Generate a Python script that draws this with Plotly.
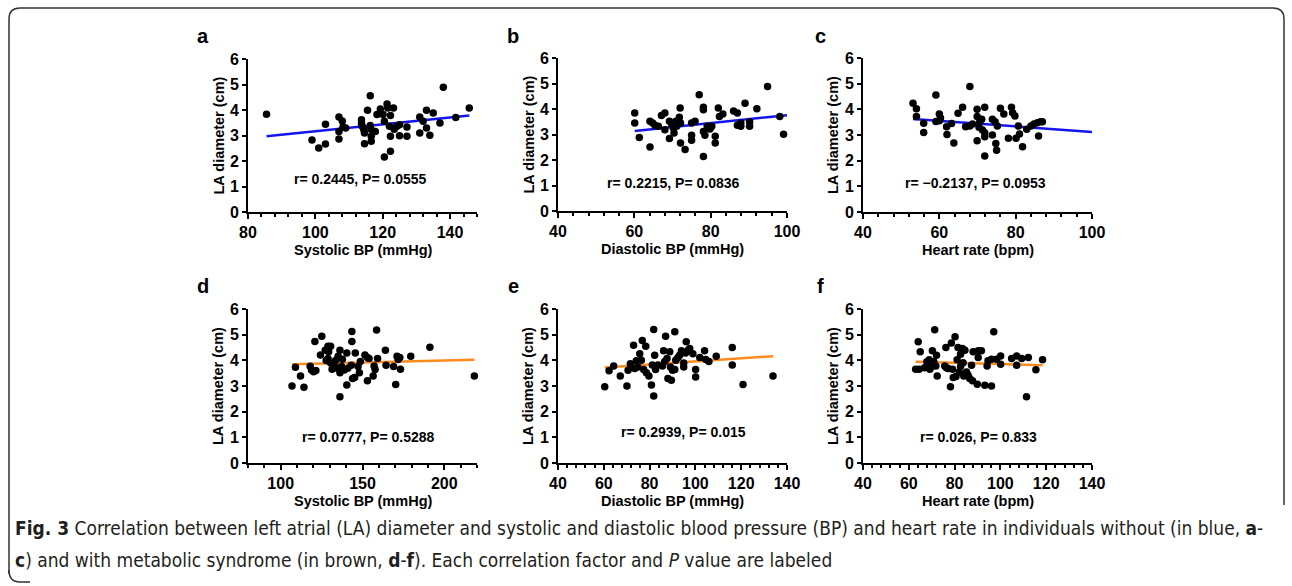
import plotly.graph_objects as go

W, H = 1292, 586

# ---------------- data ----------------
# Panel a: Systolic BP vs LA diameter (without MetS)
a_x = [85.5, 99.0, 101.0, 103.0, 103.0, 107.0, 107.0, 107.0, 108.0, 108.2, 109.0, 113.7, 113.7, 113.9,
       114.4, 114.6, 114.6, 115.5, 116.3, 116.3, 116.5, 116.6, 116.6, 117.8, 118.3, 119.3, 120.1, 120.5,
       120.5, 121.3, 121.5, 122.0, 122.3, 122.3, 122.3, 123.2, 123.4, 124.2, 125.0, 125.0, 127.2, 127.2,
       131.0, 131.0, 132.0, 133.0, 133.0, 134.0, 135.0, 137.0, 138.0, 141.7, 145.7]
a_y = [3.83, 2.82, 2.51, 3.44, 2.67, 3.73, 3.16, 2.86, 3.57, 3.33, 3.29, 3.62, 3.49, 3.36,
       3.23, 3.10, 2.68, 3.99, 4.56, 3.39, 3.25, 2.97, 2.77, 3.16, 3.82, 4.04, 3.82, 3.56,
       2.16, 4.24, 4.08, 3.36, 3.78, 2.97, 2.38, 4.08, 3.25, 3.36, 3.42, 2.99, 3.33, 2.97,
       3.73, 3.10, 3.56, 3.99, 3.29, 3.01, 3.88, 3.49, 4.89, 3.71, 4.08]
a_fit_x = [85.5, 145.7]
a_fit_y = [2.97, 3.78]

# Panel b: Diastolic BP
b_x = [60.1, 60.1, 61.3, 64.1, 64.1, 64.8, 65.4, 66.3, 67.1, 68.0, 68.0, 69.2, 69.2, 69.8, 70.2, 70.4,
       70.9, 71.1, 71.8, 72.0, 72.1, 72.1, 73.3, 75.0, 75.0, 75.0, 75.9, 77.0, 78.1, 78.1, 78.1, 78.1,
       78.5, 79.1, 79.8, 80.3, 81.2, 81.2, 82.0, 82.3, 83.2, 86.0, 87.0, 87.0, 87.9, 87.9, 89.0, 90.2,
       90.2, 92.1, 94.9, 98.1, 99.1]
b_y = [3.84, 3.45, 2.88, 3.52, 2.51, 3.45, 3.36, 3.32, 3.75, 3.84, 3.19, 3.52, 2.84, 3.39, 3.26, 3.06,
       3.52, 3.32, 3.68, 4.04, 3.45, 2.67, 2.41, 3.45, 2.97, 2.77, 3.52, 4.56, 4.07, 3.97, 3.12, 2.14,
       2.97, 3.32, 3.22, 3.32, 2.93, 2.67, 4.04, 3.71, 3.80, 3.92, 3.84, 3.36, 3.45, 3.32, 4.23, 3.32,
       3.49, 4.01, 4.88, 3.71, 3.01]
b_fit_x = [60.1, 100.0]
b_fit_y = [3.14, 3.76]

# Panel c: Heart rate
c_x = [53.1, 54.0, 54.0, 55.9, 55.9, 59.1, 59.1, 60.0, 60.0, 60.3, 61.9, 62.0, 63.2, 63.8, 64.9, 66.1,
       66.9, 68.0, 68.0, 68.7, 69.9, 69.9, 69.9, 70.4, 70.6, 71.1, 71.3, 71.9, 71.9, 71.9, 71.9, 73.9,
       73.9, 74.6, 74.8, 75.0, 75.2, 76.0, 76.9, 78.1, 78.9, 79.2, 79.8, 80.1, 80.7, 81.0, 81.8, 82.9,
       84.0, 84.8, 85.7, 86.0, 86.5, 87.0]
c_y = [4.24, 4.02, 3.72, 3.46, 3.10, 4.56, 3.53, 3.82, 3.56, 3.66, 3.32, 3.02, 3.45, 2.69, 3.85, 4.08,
       3.32, 4.89, 3.35, 3.43, 4.00, 3.72, 2.78, 3.30, 3.52, 3.61, 3.19, 4.08, 3.09, 2.93, 2.18, 3.61,
       3.00, 3.52, 2.67, 2.41, 3.35, 4.04, 3.82, 2.87, 4.08, 3.87, 3.74, 2.87, 3.35, 3.04, 2.54, 3.22,
       3.35, 3.43, 3.48, 2.96, 3.52, 3.52]
c_fit_x = [53.1, 100.0]
c_fit_y = [3.62, 3.12]

# Panel d: Systolic BP (with MetS)
d_x = [106.9, 109.0, 112.1, 114.2, 118.0, 118.8, 120.1, 120.9, 121.5, 124.3, 125.1, 127.2, 127.8, 128.9,
       128.9, 129.3, 130.5, 130.5, 131.4, 132.6, 133.5, 134.7, 135.1, 136.2, 136.2, 136.2, 137.2, 137.7,
       138.9, 140.4, 140.4, 141.0, 143.1, 143.5, 143.5, 143.9, 145.2, 145.6, 147.3, 148.1, 148.7, 151.5,
       153.0, 153.0, 154.0, 156.5, 157.1, 157.7, 158.6, 159.2, 164.0, 164.4, 169.0, 170.3, 171.1, 171.8,
       172.8, 173.2, 179.5, 191.2, 218.4]
d_y = [3.00, 3.73, 3.39, 2.95, 3.77, 3.62, 3.56, 4.73, 3.60, 4.21, 4.94, 4.39, 3.99, 4.55,
       4.07, 4.33, 4.55, 3.90, 3.65, 3.81, 3.99, 3.69, 4.16, 4.39, 3.52, 2.58, 3.76, 4.04,
       3.62, 3.04, 4.29, 3.69, 3.81, 5.12, 4.73, 3.29, 3.33, 4.29, 3.76, 3.52, 3.95, 4.21,
       4.11, 3.20, 4.07, 3.39, 3.78, 3.64, 5.18, 4.07, 4.39, 3.81, 3.76, 3.06, 4.16, 4.03,
       4.11, 3.65, 4.16, 4.51, 3.39]
d_fit_x = [106.9, 218.4]
d_fit_y = [3.85, 4.02]

# Panel e: Diastolic BP (with MetS)
e_x = [60.4, 62.3, 64.3, 67.2, 70.1, 70.6, 71.6, 72.0, 73.0, 73.5, 74.2, 74.9, 75.7, 76.4, 76.8, 77.4,
       78.3, 78.6, 79.7, 80.8, 81.2, 81.8, 81.8, 82.2, 82.6, 83.7, 85.6, 86.1, 86.6, 87.0, 87.6, 88.0,
       88.8, 89.1, 89.5, 90.0, 91.0, 91.0, 91.4, 92.4, 93.1, 93.9, 94.9, 94.9, 95.7, 96.0, 96.8, 97.5,
       98.9, 100.1, 100.1, 101.9, 104.0, 104.5, 105.9, 109.1, 116.1, 116.1, 120.8, 133.9]
e_y = [2.97, 3.59, 3.78, 3.39, 3.00, 3.61, 3.87, 3.74, 4.59, 3.68, 3.98, 3.74, 4.26, 4.00, 4.77, 3.64,
       4.55, 3.52, 3.39, 3.04, 3.82, 2.61, 5.20, 4.20, 3.64, 3.82, 3.78, 4.37, 3.95, 4.94, 4.07, 3.29,
       4.33, 3.74, 3.22, 3.61, 5.11, 3.64, 4.00, 4.11, 4.20, 4.37, 3.74, 3.90, 4.29, 4.72, 4.39, 4.46,
       4.26, 3.35, 3.64, 4.11, 4.37, 4.03, 3.95, 4.16, 4.50, 3.82, 3.06, 3.39]
e_fit_x = [60.4, 134.0]
e_fit_y = [3.72, 4.16]

# Panel f: Heart rate (with MetS)
f_x = [63.0, 64.1, 64.5, 65.0, 66.9, 67.9, 68.9, 69.2, 69.9, 70.3, 70.9, 71.3, 71.8, 72.1, 72.4, 75.7,
       76.2, 76.4, 77.2, 78.2, 78.6, 79.1, 79.4, 80.2, 80.6, 81.1, 81.5, 82.0, 82.6, 82.6, 83.4, 83.7,
       84.0, 84.5, 85.2, 85.9, 86.6, 87.4, 87.8, 88.1, 89.9, 90.3, 90.3, 91.7, 93.2, 94.2, 94.6, 96.1,
       96.1, 97.1, 98.3, 100.1, 100.1, 104.9, 107.1, 107.1, 109.3, 111.4, 112.2, 115.5, 118.4]
f_y = [3.65, 4.72, 3.65, 4.33, 3.71, 3.94, 4.02, 3.65, 3.76, 4.37, 3.94, 5.19, 3.78, 4.20, 3.39, 3.78,
       4.50, 3.71, 3.68, 2.97, 4.68, 3.65, 3.33, 4.92, 3.37, 4.02, 4.50, 3.55, 4.24, 3.76, 4.46, 3.91,
       3.39, 4.39, 3.55, 3.42, 3.29, 3.81, 3.20, 4.33, 3.07, 4.11, 4.37, 4.37, 3.03, 3.78, 3.98, 3.00,
       4.04, 5.11, 4.04, 3.85, 4.17, 4.07, 4.17, 3.81, 4.07, 2.58, 4.11, 3.63, 4.02]
f_fit_x = [63.0, 118.4]
f_fit_y = [3.94, 3.81]

panel_letters = ["a", "b", "c", "d", "e", "f"]
x_titles = ["Systolic BP (mmHg)", "Diastolic BP (mmHg)", "Heart rate (bpm)",
            "Systolic BP (mmHg)", "Diastolic BP (mmHg)", "Heart rate (bpm)"]
y_title = "LA diameter (cm)"
stats_text = ["r= 0.2445, P= 0.0555", "r= 0.2215, P= 0.0836", "r= \u22120.2137, P= 0.0953",
              "r= 0.0777, P= 0.5288", "r= 0.2939, P= 0.015", "r= 0.026, P= 0.833"]
x_ranges = [[80, 148], [40, 100], [40, 100], [80, 220], [40, 140], [40, 140]]
x_tickvals = [[80, 100, 120, 140], [40, 60, 80, 100], [40, 60, 80, 100],
              [100, 150, 200], [40, 60, 80, 100, 120, 140], [40, 60, 80, 100, 120, 140]]
x_minor = [4, 4, 4, 10, 4, 4]
y_tickvals = [0, 1, 2, 3, 4, 5, 6]

xs = [a_x, b_x, c_x, d_x, e_x, f_x]
ys = [a_y, b_y, c_y, d_y, e_y, f_y]
fits_x = [a_fit_x, b_fit_x, c_fit_x, d_fit_x, e_fit_x, f_fit_x]
fits_y = [a_fit_y, b_fit_y, c_fit_y, d_fit_y, e_fit_y, f_fit_y]
line_colors = ["#1414f0", "#1414f0", "#1414f0", "#ff8a1c", "#ff8a1c", "#ff8a1c"]

# ---------------- layout geometry (pixels) ----------------
boxes = [  # left, right, top, bottom
    (248, 477, 59, 212), (558, 787, 58, 211), (863, 1092, 58, 212),
    (248, 477, 309, 463), (558, 787, 309, 463), (863, 1092, 309, 463),
]
letter_pos = [(203, 36), (513, 36), (820, 36), (203, 286), (513, 286), (820, 286)]
stat_pos = [(360, 179), (673, 183), (976, 183), (368, 437), (683, 432), (978, 437)]


def px(x):
    return x / W


def py(y):
    return 1 - y / H


FONT = "Liberation Sans, Arial, Helvetica, sans-serif"
fig = go.Figure()
layout = dict(width=W, height=H, margin=dict(l=0, r=0, t=0, b=0),
              paper_bgcolor="white", plot_bgcolor="white", showlegend=False)
annotations = []


def ann(text, x, y, size, angle=0, xanchor="center", font=FONT, color="black"):
    return dict(text=text, x=px(x), y=py(y), xref="paper", yref="paper", showarrow=False,
                xanchor=xanchor, yanchor="middle", textangle=angle,
                font=dict(family=font, size=size, color=color))


for i in range(6):
    n = "" if i == 0 else str(i + 1)
    xa, ya = "x" + n, "y" + n
    L, R, T, B = boxes[i]
    fig.add_trace(go.Scatter(x=fits_x[i], y=fits_y[i], mode="lines", xaxis=xa, yaxis=ya,
                             line=dict(color=line_colors[i], width=2.5), hoverinfo="skip"))
    fig.add_trace(go.Scatter(x=xs[i], y=ys[i], mode="markers", xaxis=xa, yaxis=ya,
                             marker=dict(color="black", size=7.5), cliponaxis=False))
    layout["xaxis" + n] = dict(
        domain=[px(L), px(R)], anchor=ya, range=x_ranges[i], tickmode="array",
        tickvals=x_tickvals[i], showline=True, linecolor="black", linewidth=2,
        ticks="outside", ticklen=5, tickwidth=2, tickcolor="black", showgrid=False,
        zeroline=False, tickfont=dict(family=FONT, size=16, color="black", weight="bold"),
        minor=dict(dtick=x_minor[i], tick0=x_ranges[i][0], ticks="outside", ticklen=3,
                   tickwidth=2, tickcolor="black", showgrid=False),
        automargin=False, fixedrange=True)
    layout["yaxis" + n] = dict(
        domain=[py(B), py(T)], anchor=xa, range=[0, 6], tickmode="array",
        tickvals=y_tickvals, showline=True, linecolor="black", linewidth=2,
        ticks="outside", ticklen=4, tickwidth=2, tickcolor="black", showgrid=False,
        zeroline=False, tickfont=dict(family=FONT, size=16, color="black", weight="bold"),
        automargin=False, fixedrange=True)
    lx, ly = letter_pos[i]
    annotations.append(ann("<b>%s</b>" % panel_letters[i], lx, ly, 20))
    annotations.append(ann("<b>%s</b>" % x_titles[i], (L + R) / 2, B + 38, 14.5))
    annotations.append(ann("<b>%s</b>" % y_title, L - 30, (T + B) / 2, 14.5, angle=-90))
    sx, sy = stat_pos[i]
    annotations.append(ann("<b>%s</b>" % stats_text[i], sx, sy, 14))

CAP_FONT = "Liberation Sans Narrow, DejaVu Sans Condensed, Arial Narrow, sans-serif"
cap1 = ("<b>Fig. 3</b> Correlation between left atrial (LA) diameter and systolic and diastolic "
        "blood pressure (BP) and heart rate in individuals without (in blue, <b>a</b>-")
cap2 = ("<b>c</b>) and with metabolic syndrome (in brown, <b>d</b>-<b>f</b>). Each correlation "
        "factor and <i>P</i> value are labeled")
annotations.append(ann(cap1, 13, 528, 19, xanchor="left", font=CAP_FONT, color="#231f20"))
annotations.append(ann(cap2, 13, 560, 19, xanchor="left", font=CAP_FONT, color="#231f20"))
layout["annotations"] = annotations

# rounded frame
path = ("M {a},{b} L {a},{c} Q {a},{d} {e},{d} L {f},{d} Q {g},{d} {g},{c} L {g},{h}"
        ).format(a=px(9), b=py(574), c=py(19), d=py(8), e=px(20), f=px(1273), g=px(1284), h=py(505))
path_bl = "M {a},{b} Q {a},{c} {d},{c} L {e},{c}".format(a=px(9), b=py(570), c=py(582), d=px(20), e=px(30))
layout["shapes"] = [
    dict(type="path", path=path, xref="paper", yref="paper", line=dict(color="#333", width=1.5)),
    dict(type="path", path=path_bl, xref="paper", yref="paper", line=dict(color="#333", width=1.5)),
]

fig.update_layout(**layout)
fig.write_html("out.html", config={"displayModeBar": False},
               post_script="document.body.style.margin='0px';")
